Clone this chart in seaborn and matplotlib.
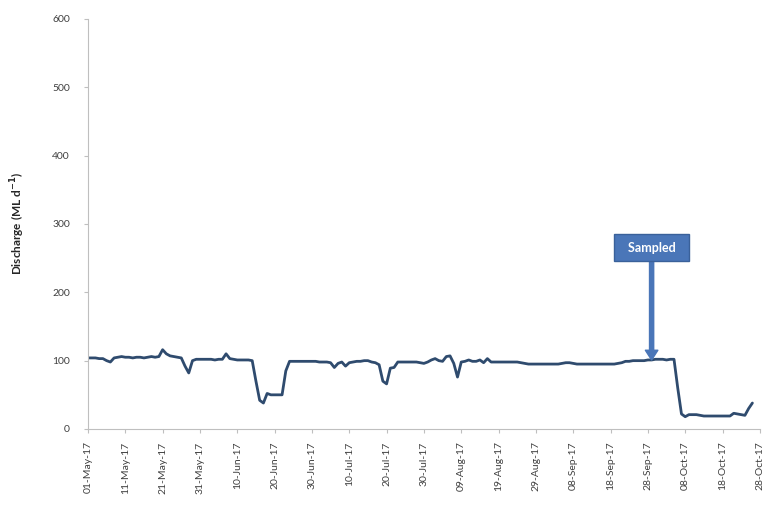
import pandas as pd
import matplotlib
matplotlib.use("Agg")
import matplotlib.pyplot as plt
import matplotlib.dates as mdates
import seaborn as sns

# Daily discharge (ML/d), starting 01-May-17
start_date = "2017-05-01"
discharge = [
    104, 104, 104, 103, 103, 100, 98, 104, 105, 106,
    105, 105, 104, 105, 105, 104, 105, 106, 105, 106,
    116, 110, 107, 106, 105, 104, 92, 82, 100, 102,
    102, 102, 102, 102, 101, 102, 102, 110, 103, 102,
    101, 101, 101, 101, 100, 70, 42, 38, 52, 50,
    50, 50, 50, 85, 99, 99, 99, 99, 99, 99,
    99, 99, 98, 98, 98, 97, 90, 96, 98, 92,
    97, 98, 99, 99, 100, 100, 98, 97, 94, 70,
    66, 89, 90, 98, 98, 98, 98, 98, 98, 97,
    96, 98, 101, 103, 100, 99, 106, 107, 96, 76,
    98, 99, 101, 99, 99, 101, 97, 103, 98, 98,
    98, 98, 98, 98, 98, 98, 97, 96, 95, 95,
    95, 95, 95, 95, 95, 95, 95, 96, 97, 97,
    96, 95, 95, 95, 95, 95, 95, 95, 95, 95,
    95, 95, 96, 97, 99, 99, 100, 100, 100, 100,
    101, 101, 102, 102, 102, 101, 102, 102, 60, 22,
    18, 21, 21, 21, 20, 19, 19, 19, 19, 19,
    19, 19, 19, 23, 22, 21, 20, 30, 38,
]
sample_date = "2017-09-29"
sample_value = 101
label_y = 265

dates = pd.date_range(start_date, periods=len(discharge), freq="D")
df = pd.DataFrame({"Date": dates, "Discharge": discharge})

sns.set_style("white")
plt.rcParams["font.family"] = ["Lato", "DejaVu Sans"]

fig = plt.figure(figsize=(7.73, 5.05), dpi=100)
ax = fig.add_axes([0.1138, 0.1505, 0.8692, 0.812])

sns.lineplot(data=df, x="Date", y="Discharge", ax=ax, color="#2F4B6E", linewidth=2)

ax.set_xlim(pd.Timestamp("2017-05-01"), pd.Timestamp("2017-10-28"))
ax.set_ylim(0, 600)
ax.set_yticks(range(0, 601, 100))
ax.set_xticks(pd.date_range("2017-05-01", "2017-10-28", freq="10D"))
ax.xaxis.set_major_formatter(mdates.DateFormatter("%d-%b-%y"))
plt.setp(ax.get_xticklabels(), rotation=90)

ax.tick_params(axis="both", labelsize=7.5, colors="#404040", length=3,
               width=0.8, direction="out", left=True, bottom=True)
ax.tick_params(axis="both", color="#BFBFBF")
ax.tick_params(axis="y", pad=10)
ax.tick_params(axis="x", pad=6)

for side in ["top", "right"]:
    ax.spines[side].set_visible(False)
for side in ["left", "bottom"]:
    ax.spines[side].set_color("#BFBFBF")
    ax.spines[side].set_linewidth(0.8)

ax.set_xlabel("")
ax.set_ylabel(r"Discharge (ML d$^{\mathbf{-1}}$)", fontsize=8.5,
              fontweight="bold", color="#262626", labelpad=18)

ax.annotate("  Sampled  ", xy=(pd.Timestamp(sample_date), sample_value),
            xytext=(pd.Timestamp(sample_date), label_y),
            ha="center", va="center", fontsize=9, fontweight="bold",
            color="white",
            bbox=dict(boxstyle="square,pad=0.6", fc="#4A76B8", ec="#3A619A", lw=1),
            arrowprops=dict(width=3, headwidth=9, headlength=7,
                            color="#4A76B8", shrink=0.0))

plt.savefig("out.png", dpi=100)
